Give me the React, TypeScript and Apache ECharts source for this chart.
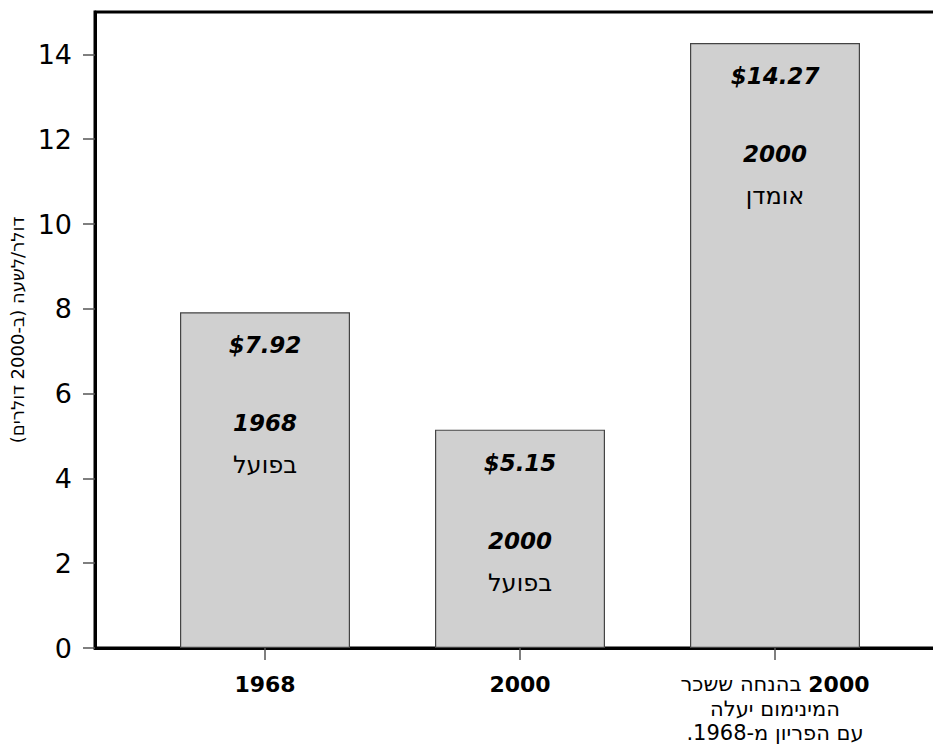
import React, { useEffect, useRef } from "react";
import * as echarts from "echarts";

const RLM = "\u200F";
const rtl = (s: string) => s + RLM;

const xPositions = [1, 2, 3];
const values = [7.92, 5.15, 14.27];
const barYears = ["1968", "2000", "2000"];
const barKinds = ["בפועל", "בפועל", "אומדן"];
const axisYears = ["1968", "2000", "2000"];
const axisNotes: string[][] = [[], [], ["בהנחה ששכר", "המינימום יעלה", "עם הפריון מ-1968."]];
const yTicks = [0, 2, 4, 6, 8, 10, 12, 14];
const yName = "דולר/לשעה (ב-2000 דולרים)";

const FONT = "DejaVu Sans";

export default function App() {
  const ref = useRef<HTMLDivElement>(null);
  useEffect(() => {
    if (!ref.current) return;
    const chart = echarts.init(ref.current, undefined, { renderer: "svg" });
    chart.setOption({
      animation: false,
      backgroundColor: "#fff",
      grid: {
        left: 95,
        top: 12,
        right: -12,
        bottom: 97,
        outerBoundsMode: "none",
        containLabel: false,
        show: true,
        borderColor: "#000",
        borderWidth: 3,
        backgroundColor: "transparent",
      },
      xAxis: {
        type: "value",
        min: 1 / 3,
        max: 11 / 3,
        splitLine: { show: false },
        axisLine: { show: true, lineStyle: { color: "#000", width: 3 } },
        axisTick: {
          show: true,
          customValues: xPositions,
          length: 12,
          lineStyle: { color: "#555", width: 1.5 },
        },
        axisLabel: {
          customValues: xPositions,
          margin: 24,
          fontFamily: FONT,
          color: "#000",
          formatter: (v: number) => {
            const i = xPositions.indexOf(Math.round(v));
            if (i < 0) return "";
            const notes = axisNotes[i];
            if (!notes.length) return "{b|" + axisYears[i] + "}";
            let s = "{r|" + rtl(notes[0]) + "}{s| }{b|" + axisYears[i] + "}";
            for (let k = 1; k < notes.length; k++) s += "\n{r|" + rtl(notes[k]) + "}";
            return s;
          },
          rich: {
            b: { fontFamily: FONT, fontWeight: "bold", fontSize: 22, color: "#000", lineHeight: 24.5 },
            r: { fontFamily: FONT, fontSize: 21, color: "#000", lineHeight: 24.5 },
            s: { fontFamily: FONT, fontSize: 21, lineHeight: 24.5 },
          },
        },
      },
      yAxis: {
        type: "value",
        min: 0,
        max: 15,
        splitLine: { show: false },
        name: rtl(yName),
        nameLocation: "middle",
        nameRotate: 90,
        nameGap: 65,
        nameTextStyle: { fontFamily: FONT, fontSize: 18, color: "#000" },
        axisLine: { show: true, lineStyle: { color: "#000", width: 3 } },
        axisTick: {
          show: true,
          customValues: yTicks,
          length: 12,
          lineStyle: { color: "#555", width: 1.5 },
        },
        axisLabel: {
          customValues: yTicks,
          margin: 23,
          fontFamily: FONT,
          fontSize: 27,
          color: "#000",
        },
      },
      series: [
        {
          type: "bar",
          data: xPositions.map((x, i) => [x, values[i]]),
          barWidth: 170,
          itemStyle: { color: "#d0d0d0", borderColor: "#444", borderWidth: 1.2 },
          label: {
            show: true,
            position: "insideTop",
            distance: 12,
            formatter: (p: any) => {
              const i = p.dataIndex;
              return (
                "{v|$" + values[i].toFixed(2) + "}\n{g| }\n{y|" + barYears[i] + "}\n{h|" + rtl(barKinds[i]) + "}"
              );
            },
            rich: {
              v: { fontFamily: FONT, fontWeight: "bold", fontStyle: "italic", fontSize: 23, color: "#000", lineHeight: 42 },
              g: { fontSize: 10, lineHeight: 38 },
              y: { fontFamily: FONT, fontWeight: "bold", fontStyle: "italic", fontSize: 23, color: "#000", lineHeight: 38 },
              h: { fontFamily: FONT, fontSize: 24, color: "#000", lineHeight: 46 },
            },
          },
        },
      ],
    });
    return () => chart.dispose();
  }, []);
  return (
    <div
      ref={ref}
      style={{ position: "absolute", left: 0, top: 0, width: 933, height: 745 }}
    />
  );
}
